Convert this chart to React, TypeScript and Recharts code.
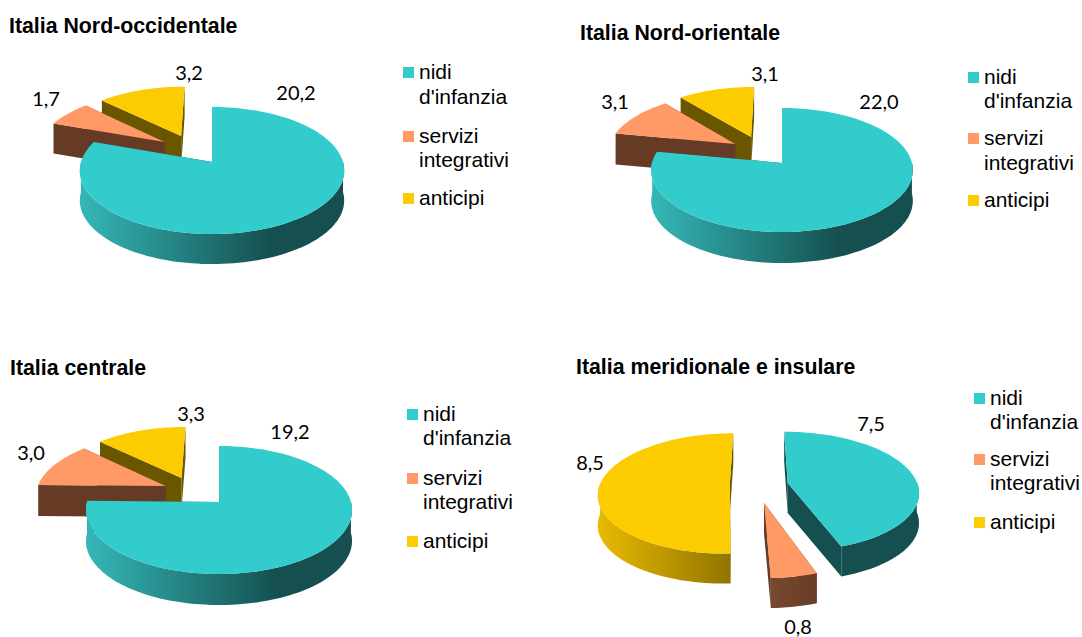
import { Pie, PieChart } from "recharts";

// Four exploded "3D" pies. Recharts only draws flat circles, so each sector
// goes through a custom shape that projects the angles the Pie computed onto
// a tilted disc and extrudes it downwards.

const CATEGORIES = ["nidi d'infanzia", "servizi integrativi", "anticipi"];
const LEGEND_LINES = [["nidi", "d'infanzia"], ["servizi", "integrativi"], ["anticipi"]];
const TITLES = [
  "Italia Nord-occidentale",
  "Italia Nord-orientale",
  "Italia centrale",
  "Italia meridionale e insulare",
];
const NORD_OVEST = [20.2, 1.7, 3.2];
const NORD_EST = [22.0, 3.1, 3.1];
const CENTRO = [19.2, 3.0, 3.3];
const SUD = [7.5, 0.8, 8.5];

const COLORS = ["#33cccc", "#ff9966", "#fccb00"];
const SIDE_DARK = ["#154f4f", "#663b26", "#6b5600"];
const SIDE_LIGHT = ["#35b7b7", "#a96b47", "#e6b900"];

// explode: how far each slice is pulled off-centre, in disc units [right, down]
const PANELS = [
  {
    values: NORD_OVEST, title: TITLES[0], left: 0, top: 0, titleX: 9, titleY: 26,
    cx: 212, cy: 162, rx: 131, ry: 62.4, persp: 0.134, depth: 30,
    explode: [[0, 0], [-0.378, -0.335], [-0.25, -0.441]],
    labels: [[296, 92], [46, 98], [189, 72]],
    legendX: 403, legendY: [72, 97, 136, 160, 198],
  },
  {
    values: NORD_EST, title: TITLES[1], left: 560, top: 0, titleX: 580, titleY: 33,
    cx: 782, cy: 163, rx: 130, ry: 61.2, persp: 0.113, depth: 31,
    explode: [[0, 0], [-0.372, -0.322], [-0.25, -0.446]],
    labels: [[879, 101], [615, 101], [765, 73]],
    legendX: 968, legendY: [77, 101, 138, 163, 200],
  },
  {
    values: CENTRO, title: TITLES[2], left: 0, top: 320, titleX: 10, titleY: 368,
    cx: 219, cy: 502, rx: 132, ry: 63, persp: 0.125, depth: 31,
    explode: [[0, 0], [-0.418, -0.262], [-0.298, -0.4]],
    labels: [[290, 431], [31, 452], [191, 413]],
    legendX: 407, legendY: [414, 438, 478, 502, 541],
  },
  {
    values: SUD, title: TITLES[3], left: 560, top: 320, titleX: 576, titleY: 367,
    cx: 759, cy: 485, rx: 130, ry: 59, persp: 0.14, depth: 30,
    explode: [[0.222, -0.034], [0.037, 0.293], [-0.225, 0]],
    labels: [[871, 423], [798, 626], [590, 462]],
    legendX: 974, legendY: [398, 422, 459, 483, 522],
  },
];

const RAD = Math.PI / 180;

function sliceShape(panel: any, panelIndex: number) {
  return function Slice(props: any) {
    const { startAngle, endAngle, cx, cy, outerRadius } = props;
    const index = CATEGORIES.indexOf(props.name ?? props.payload?.name);
    const [ex, ey] = panel.explode[index];

    const project = (u: number, v: number) => {
      const w = 1 - panel.persp * (v + ey);
      return [
        cx + (outerRadius * (u + ex)) / w,
        cy + (panel.ry * (v + ey)) / w,
      ];
    };

    const steps = Math.max(2, Math.ceil(Math.abs(endAngle - startAngle) / 2));
    const arc: number[][] = [];
    const front: number[][] = [];
    for (let i = 0; i <= steps; i++) {
      const a = (startAngle + ((endAngle - startAngle) * i) / steps) * RAD;
      const p = project(Math.cos(a), -Math.sin(a));
      arc.push(p);
      if (Math.sin(a) <= 0.03) front.push(p);
    }
    const apex = project(0, 0);
    const d = panel.depth;
    const down = (p: number[]) => [p[0], p[1] + d];
    const poly = (pts: number[][]) =>
      "M" + pts.map((p) => `${p[0].toFixed(1)},${p[1].toFixed(1)}`).join("L") + "Z";

    const gradientId = `side-${panelIndex}-${index}`;
    const centerX = cx + outerRadius * ex;
    return (
      <g>
        <defs>
          <linearGradient
            id={gradientId}
            gradientUnits="userSpaceOnUse"
            x1={centerX - outerRadius}
            x2={centerX + outerRadius * 0.45}
            y1={0}
            y2={0}
          >
            <stop offset="0" stopColor={SIDE_LIGHT[index]} />
            <stop offset="1" stopColor={SIDE_DARK[index]} />
          </linearGradient>
        </defs>
        <path
          d={poly([apex, arc[0], down(arc[0]), down(apex)])}
          fill={SIDE_DARK[index]}
        />
        <path
          d={poly([apex, arc[steps], down(arc[steps]), down(apex)])}
          fill={SIDE_DARK[index]}
        />
        {front.length > 1 && (
          <path
            d={poly([...front, ...front.slice().reverse().map(down)])}
            fill={`url(#${gradientId})`}
          />
        )}
        <path d={poly([apex, ...arc])} fill={COLORS[index]} />
      </g>
    );
  };
}

function PiePanel({ panel, panelIndex }: { panel: any; panelIndex: number }) {
  // drawn anticipi first, going the other way round, so nearer slices paint last
  const data = CATEGORIES.map((name, i) => ({
    name,
    value: panel.values[i],
    fill: COLORS[i],
  })).reverse();
  const shape = sliceShape(panel, panelIndex);

  const renderLabel = (props: any) => {
    const i = CATEGORIES.indexOf(props.name);
    const [x, y] = panel.labels[i];
    return (
      <text
        key={props.name}
        x={x - panel.left}
        y={y - panel.top}
        textAnchor="middle"
        dominantBaseline="central"
        fontFamily="Lato, sans-serif"
        fontSize={20}
        fill="#000"
      >
        {panel.values[i].toFixed(1).replace(".", ",")}
      </text>
    );
  };

  const width = panelIndex % 2 === 0 ? 560 : 522;
  const height = panelIndex < 2 ? 320 : 317;

  return (
    <div style={{ position: "absolute", left: panel.left, top: panel.top, width, height }}>
      <PieChart width={width} height={height} margin={{ top: 0, right: 0, bottom: 0, left: 0 }}>
        <Pie
          data={data}
          dataKey="value"
          nameKey="name"
          cx={panel.cx - panel.left}
          cy={panel.cy - panel.top}
          outerRadius={panel.rx}
          startAngle={90}
          endAngle={450}
          stroke="none"
          shape={shape}
          activeShape={shape}
          inactiveShape={shape}
          label={renderLabel}
          labelLine={false}
          isAnimationActive={false}
        />
      </PieChart>
    </div>
  );
}

function TextLine({ x, y, bold, size, children }: any) {
  return (
    <div
      style={{
        position: "absolute",
        left: x,
        top: y - 14,
        height: 28,
        lineHeight: "28px",
        whiteSpace: "nowrap",
        fontFamily: "'Liberation Sans', Arial, sans-serif",
        fontSize: size,
        fontWeight: bold ? 700 : 400,
        color: "#000",
      }}
    >
      {children}
    </div>
  );
}

function PanelLegend({ panel }: { panel: any }) {
  let row = 0;
  return (
    <>
      {LEGEND_LINES.map((lines, i) => {
        const firstRow = row;
        row += lines.length;
        return (
          <div key={i}>
            <div
              style={{
                position: "absolute",
                left: panel.legendX,
                top: panel.legendY[firstRow] - 5.5,
                width: 11,
                height: 11,
                background: COLORS[i],
              }}
            />
            {lines.map((line, j) => (
              <TextLine
                key={line}
                x={panel.legendX + 16}
                y={panel.legendY[firstRow + j]}
                size={21}
              >
                {line}
              </TextLine>
            ))}
          </div>
        );
      })}
    </>
  );
}

export default function App() {
  return (
    <div
      style={{
        position: "fixed",
        left: 0,
        top: 0,
        width: 1082,
        height: 637,
        background: "#fff",
        overflow: "hidden",
      }}
    >
      {PANELS.map((panel, i) => (
        <PiePanel key={panel.title} panel={panel} panelIndex={i} />
      ))}
      {PANELS.map((panel) => (
        <div key={panel.title}>
          <TextLine x={panel.titleX} y={panel.titleY} bold size={21.3}>
            {panel.title}
          </TextLine>
          <PanelLegend panel={panel} />
        </div>
      ))}
    </div>
  );
}
